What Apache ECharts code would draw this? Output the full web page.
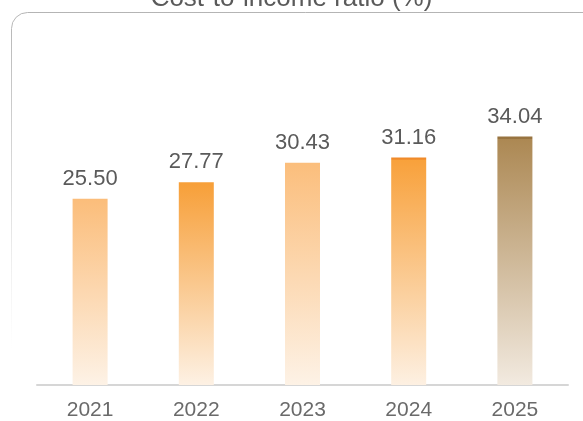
<!DOCTYPE html>
<html>
<head>
<meta charset="utf-8">
<script src="https://cdn.jsdelivr.net/npm/echarts@6/dist/echarts.min.js"></script>
<style>html,body{margin:0;padding:0;background:#fff}#c{width:583px;height:421px}</style>
</head>
<body>
<div id="c"></div>
<script>
var titleText = 'Cost-to-income ratio (%)';
var categories = ['2021', '2022', '2023', '2024', '2025'];
var values = [25.50, 27.77, 30.43, 31.16, 34.04];
var labels = ['25.50', '27.77', '30.43', '31.16', '34.04'];

var palette = [
  {top: '#fbbd7a', cap: null, bottom: '#fdf2e6'},
  {top: '#f79f38', cap: null, bottom: '#fdf1e4'},
  {top: '#fbbe7c', cap: null, bottom: '#fdf2e6'},
  {top: '#f8a13b', cap: '#f08a2a', bottom: '#fdf0e2'},
  {top: '#ac8853', cap: '#987440', bottom: '#f2eae0'}
];

function grad(p) {
  var stops = [];
  if (p.cap) {
    stops.push({offset: 0, color: p.cap});
    stops.push({offset: 0.008, color: p.cap});
    stops.push({offset: 0.01, color: p.top});
  } else {
    stops.push({offset: 0, color: p.top});
  }
  stops.push({offset: 1, color: p.bottom});
  return new echarts.graphic.LinearGradient(0, 0, 0, 1, stops);
}

var chart = echarts.init(document.getElementById('c'), null, {renderer: 'canvas'});
var fontFam = '"Liberation Sans", Arial, Helvetica, sans-serif';
chart.setOption({
  animation: false,
  backgroundColor: '#fff',
  title: {
    text: titleText,
    left: 'center',
    top: -14,
    padding: [0, 6],
    backgroundColor: '#fff',
    textStyle: {fontSize: 26, fontWeight: 'normal', color: '#5a5a5a', fontFamily: fontFam}
  },
  graphic: [{
    type: 'rect',
    z: 0,
    shape: {x: 11.5, y: 12.5, width: 620, height: 420, r: 16},
    style: {
      fill: 'none',
      lineWidth: 1,
      stroke: new echarts.graphic.LinearGradient(0, 0, 0, 1, [
        {offset: 0, color: 'rgba(180,180,180,1)'},
        {offset: 0.45, color: 'rgba(200,200,200,0.6)'},
        {offset: 0.8, color: 'rgba(220,220,220,0)'},
        {offset: 1, color: 'rgba(220,220,220,0)'}
      ])
    }
  }],
  grid: {left: 37, right: 15, top: 93, bottom: 36, containLabel: false},
  xAxis: {
    type: 'category',
    data: categories,
    axisLine: {lineStyle: {color: '#d6d6d6', width: 2}},
    axisTick: {show: false},
    axisLabel: {color: '#6a6a6a', fontSize: 21, margin: 15, fontFamily: fontFam}
  },
  yAxis: {
    type: 'value', min: 0, max: 40,
    show: false,
    splitLine: {show: false}
  },
  series: [{
    type: 'bar',
    barWidth: 35,
    data: values.map(function (v, i) {
      return {value: v, itemStyle: {color: grad(palette[i])}};
    }),
    label: {
      show: true,
      position: 'top',
      distance: 9,
      color: '#5a5a5a',
      fontSize: 22,
      fontFamily: fontFam,
      formatter: function (p) { return labels[p.dataIndex]; }
    }
  }]
});
</script>
</body>
</html>
